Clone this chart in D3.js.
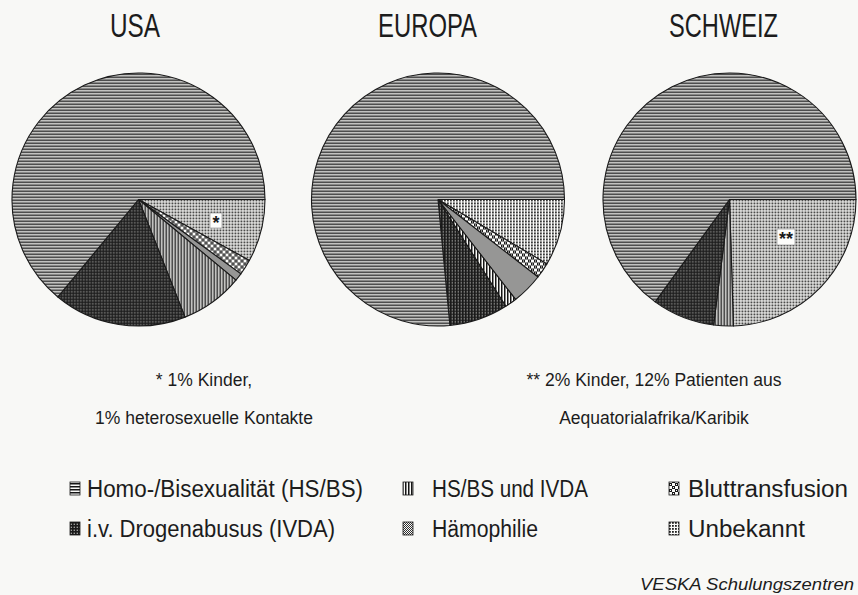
<!DOCTYPE html>
<html>
<head>
<meta charset="utf-8">
<script src="https://cdn.jsdelivr.net/npm/d3@7"></script>
<style>
  body { margin: 0; background: #f8f8f6; }
  svg { display: block; }
  .title { font-family: "Liberation Sans", Arial, sans-serif; font-size: 33px; fill: #1c1c1c; text-anchor: middle; }
  .note { font-family: "Liberation Sans", Arial, sans-serif; font-size: 17.5px; fill: #1c1c1c; text-anchor: middle; }
  .legend text { font-family: "Liberation Sans", Arial, sans-serif; font-size: 23px; fill: #1c1c1c; }
  .source { font-family: "Liberation Sans", Arial, sans-serif; font-style: italic; font-size: 17px; fill: #1c1c1c; text-anchor: end; }
</style>
</head>
<body>
<div id="chart"></div>
<script>
// data (shares in %)
var regions = ["USA", "EUROPA", "SCHWEIZ"];
var categories = ["Homo-/Bisexualität (HS/BS)", "i.v. Drogenabusus (IVDA)", "HS/BS und IVDA",
                  "Hämophilie", "Bluttransfusion", "Unbekannt"];
var usaValues = [64, 17, 8, 1, 2, 8];
var europaValues = [76.5, 7.5, 1.5, 4, 2, 8.5];
var schweizValues = [65, 8, 2.5, 0, 0, 24.5];
var notesLeft = ["* 1% Kinder,", "1% heterosexuelle Kontakte"];
var notesRight = ["** 2% Kinder, 12% Patienten aus", "Aequatorialafrika/Karibik"];
var sourceText = "VESKA Schulungszentren";

var svgWidth = 858;
var svgHeight = 595;

var svg = d3.select("#chart")
    .append("svg")
    .attr("width", svgWidth)
    .attr("height", svgHeight);

// hatch patterns for the black & white print
var defs = svg.append("defs");
var patternIds = ["p-hs", "p-ivda", "p-both", "p-haem", "p-blut", "p-unb"];
var paper = "#fbfbf9";

function addPattern(id, w, h, draw) {
    var p = defs.append("pattern")
        .attr("id", id)
        .attr("patternUnits", "userSpaceOnUse")
        .attr("width", w)
        .attr("height", h);
    p.append("rect").attr("width", w).attr("height", h).attr("fill", paper);
    draw(p);
}

function dot(p, x, y, s, c) {
    p.append("rect").attr("x", x).attr("y", y).attr("width", s).attr("height", s).attr("fill", c);
}

addPattern("p-hs", 4, 3, function(p) {
    p.append("rect").attr("y", 0).attr("width", 4).attr("height", 1.5).attr("fill", "#151515");
});
addPattern("p-ivda", 3, 3, function(p) {
    p.append("rect").attr("width", 3).attr("height", 3).attr("fill", "#1a1a1a");
    dot(p, 1.7, 1.7, 1.1, "#e4e4e2");
});
addPattern("p-both", 3, 4, function(p) {
    p.append("rect").attr("x", 0).attr("width", 1.5).attr("height", 4).attr("fill", "#151515");
});
addPattern("p-haem", 4, 4, function(p) {
    [[0, 0], [2, 0], [1, 1], [3, 1], [0, 2], [2, 2], [1, 3], [3, 3]].forEach(function(d) {
        dot(p, d[0], d[1], 1, "#303030");
    });
});
addPattern("p-blut", 6, 6, function(p) {
    dot(p, 0, 0, 3, "#1a1a1a");
    dot(p, 3, 3, 3, "#1a1a1a");
    dot(p, 1, 1, 1, paper);
    dot(p, 4, 4, 1, paper);
});
addPattern("p-unb", 3, 3, function(p) {
    dot(p, 0, 0, 1.8, "#222");
});

var fillScale = d3.scaleOrdinal()
    .domain(categories)
    .range(patternIds.map(function(id) { return "url(#" + id + ")"; }));

// layout of the three pies
var pieX = d3.scaleOrdinal().domain(regions).range([138.5, 438, 729.5]);
var titleX = d3.scaleOrdinal().domain(regions).range([135, 427.5, 723.5]);
var titleW = d3.scaleOrdinal().domain(regions).range([50, 99, 109]);
var pieY = 199.5;
var radius = 126.5;

var pie = d3.pie()
    .sort(null)
    .value(function(d) { return d.value; })
    .startAngle(Math.PI / 2)
    .endAngle(Math.PI / 2 + 2 * Math.PI);

var arc = d3.arc().innerRadius(0).outerRadius(radius);

var regionValues = [usaValues, europaValues, schweizValues];

regions.forEach(function(region, i) {
    // drawn clockwise from 3 o'clock: Unbekannt first, Homo last
    var rows = categories.map(function(c, j) {
        return { category: c, value: regionValues[i][j] };
    }).reverse();

    var g = svg.append("g")
        .attr("transform", `translate(${pieX(region)}, ${pieY})`);

    g.selectAll("path")
        .data(pie(rows).filter(function(d) { return d.data.value > 0; }))
        .enter()
        .append("path")
        .attr("d", arc)
        .attr("fill", function(d) { return fillScale(d.data.category); })
        .attr("stroke", "#1a1a1a")
        .attr("stroke-width", 1.1)
        .attr("stroke-linejoin", "round");

    svg.append("text")
        .attr("class", "title")
        .attr("x", titleX(region))
        .attr("y", 37)
        .attr("textLength", titleW(region))
        .attr("lengthAdjust", "spacingAndGlyphs")
        .text(region);
});

// footnote markers inside the "Unbekannt" slices
var markers = [
    { region: "USA", label: "*", dx: 77.5, dy: 21, w: 12, h: 15 },
    { region: "SCHWEIZ", label: "**", dx: 56.5, dy: 37.5, w: 18, h: 16 }
];
markers.forEach(function(m) {
    var mg = svg.append("g")
        .attr("transform", `translate(${pieX(m.region) + m.dx}, ${pieY + m.dy})`);
    mg.append("rect")
        .attr("x", -m.w / 2).attr("y", -m.h / 2)
        .attr("width", m.w).attr("height", m.h)
        .attr("fill", "#fdfdfb")
        .attr("stroke", "#888")
        .attr("stroke-width", 0.6);
    mg.append("text")
        .attr("y", 8)
        .attr("text-anchor", "middle")
        .attr("font-family", "Liberation Sans, sans-serif")
        .attr("font-size", 18)
        .attr("font-weight", "bold")
        .attr("fill", "#1a1a1a")
        .text(m.label);
});

// notes under the pies
notesLeft.forEach(function(t, i) {
    svg.append("text").attr("class", "note")
        .attr("x", 204).attr("y", 386 + i * 38).text(t);
});
notesRight.forEach(function(t, i) {
    svg.append("text").attr("class", "note")
        .attr("x", 654).attr("y", 386 + i * 38).text(t);
});

// legend, 3 columns x 2 rows (column = i / 2, row = i % 2)
var legendIconX = [70, 403, 669];
var legendTextX = [87, 432, 688];
var legendRows = [497, 537];
var legendTextW = [276, 248, 156, 106, 160, 117];
var legend = svg.append("g").attr("class", "legend");

categories.forEach(function(c, i) {
    var col = Math.floor(i / 2);
    var row = i % 2;
    legend.append("rect")
        .attr("x", legendIconX[col])
        .attr("y", legendRows[row] - 15)
        .attr("width", 10).attr("height", 13)
        .attr("fill", fillScale(c))
        .attr("stroke", "#1a1a1a")
        .attr("stroke-width", 0.8);
    legend.append("text")
        .attr("x", legendTextX[col])
        .attr("y", legendRows[row])
        .attr("textLength", legendTextW[i])
        .attr("lengthAdjust", "spacingAndGlyphs")
        .text(c);
});

svg.append("text")
    .attr("class", "source")
    .attr("x", 854)
    .attr("y", 590)
    .attr("textLength", 214)
    .attr("lengthAdjust", "spacingAndGlyphs")
    .text(sourceText);
</script>
</body>
</html>
